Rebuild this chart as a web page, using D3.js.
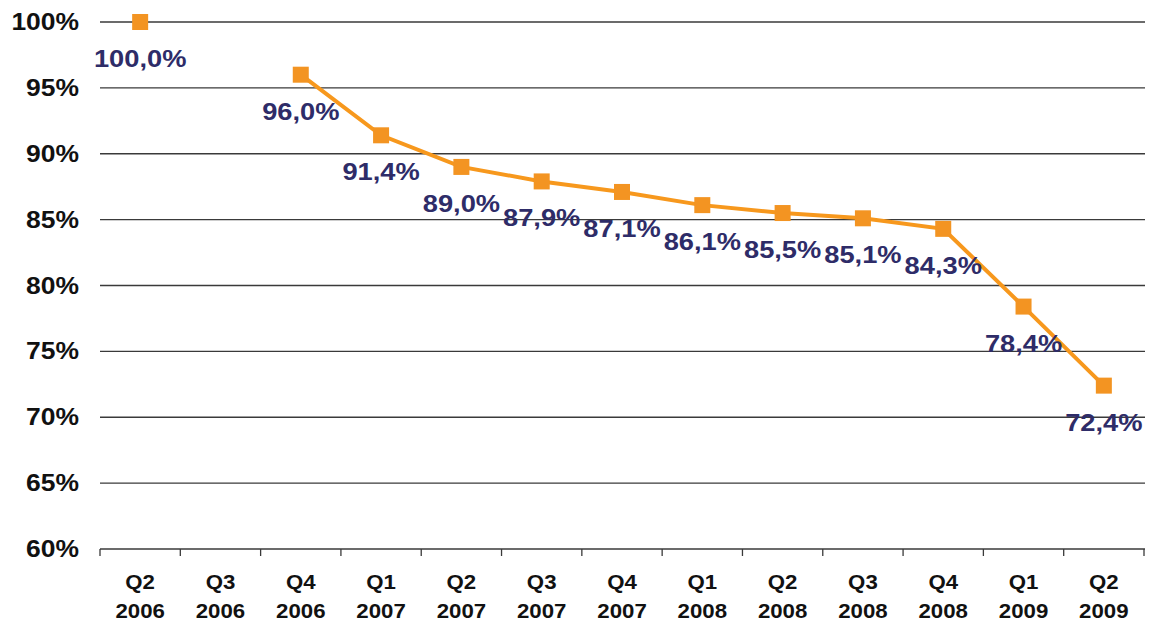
<!DOCTYPE html>
<html><head><meta charset="utf-8">
<script src="https://cdn.jsdelivr.net/npm/d3@7"></script>
<style>body{margin:0;background:#fff}svg{display:block}</style>
</head><body>
<svg id="c" width="1158" height="628"></svg>
<script>
const quarters = ["Q2","Q3","Q4","Q1","Q2","Q3","Q4","Q1","Q2","Q3","Q4","Q1","Q2"];
const years = ["2006","2006","2006","2007","2007","2007","2007","2008","2008","2008","2008","2009","2009"];
const values = [100.0, null, 96.0, 91.4, 89.0, 87.9, 87.1, 86.1, 85.5, 85.1, 84.3, 78.4, 72.4];
const valueLabels = ["100,0%", "", "96,0%", "91,4%", "89,0%", "87,9%", "87,1%", "86,1%", "85,5%", "85,1%", "84,3%", "78,4%", "72,4%"];
const yTicks = [60, 65, 70, 75, 80, 85, 90, 95, 100];

const svg = d3.select("#c");
const font = "'Liberation Sans', Arial, sans-serif";
const cats = d3.range(quarters.length);
const x = d3.scaleBand().domain(cats).range([100, 1144]);
const y = d3.scaleLinear().domain([60, 100]).range([549, 22]);
const cx = i => x(i) + x.bandwidth() / 2;

// gridlines
svg.append("g").selectAll("line").data(yTicks).join("line")
  .attr("x1", 100).attr("x2", 1145)
  .attr("y1", d => y(d)).attr("y2", d => y(d))
  .attr("stroke", "#3a3a3a").attr("stroke-width", 1.3);

// y labels
svg.append("g").selectAll("text").data(yTicks).join("text")
  .attr("transform", d => `translate(79,${y(d) + 8}) scale(1.15,1)`)
  .attr("text-anchor", "end")
  .attr("font-family", font).attr("font-weight", "bold").attr("font-size", 23)
  .attr("fill", "#111")
  .text(d => d + "%");

// x ticks at band boundaries
const bounds = cats.map(i => x(i)).concat([x.range()[1]]);
svg.append("g").selectAll("line").data(bounds).join("line")
  .attr("x1", d => d).attr("x2", d => d)
  .attr("y1", y(60)).attr("y2", y(60) + 7)
  .attr("stroke", "#3a3a3a").attr("stroke-width", 1.3);

// x labels
const xl = svg.append("g").selectAll("text").data(cats).join("text")
  .attr("transform", d => `translate(${cx(d)},0) scale(1.06,1)`)
  .attr("text-anchor", "middle")
  .attr("font-family", font).attr("font-weight", "bold").attr("font-size", 21)
  .attr("fill", "#111");
xl.append("tspan").attr("x", 0).attr("y", 589).text(d => quarters[d]);
xl.append("tspan").attr("x", 0).attr("y", 618).text(d => years[d]);

// line
const line = d3.line()
  .defined(i => values[i] !== null)
  .x(i => cx(i)).y(i => y(values[i]));
svg.append("path").datum(cats)
  .attr("d", line).attr("fill", "none")
  .attr("stroke", "#F7981D").attr("stroke-width", 4);

// markers
const pts = cats.filter(i => values[i] !== null);
svg.append("g").selectAll("rect").data(pts).join("rect")
  .attr("x", i => cx(i) - 8).attr("y", i => y(values[i]) - 8)
  .attr("width", 16).attr("height", 16)
  .attr("fill", "#F39422");

// value labels
svg.append("g").selectAll("text").data(pts).join("text")
  .attr("transform", i => `translate(${cx(i)},${y(values[i]) + 45}) scale(1.16,1)`)
  .attr("text-anchor", "middle")
  .attr("font-family", font).attr("font-weight", "bold").attr("font-size", 23.5)
  .attr("fill", "#2E2C68")
  .text(i => valueLabels[i]);
</script>
</body></html>
